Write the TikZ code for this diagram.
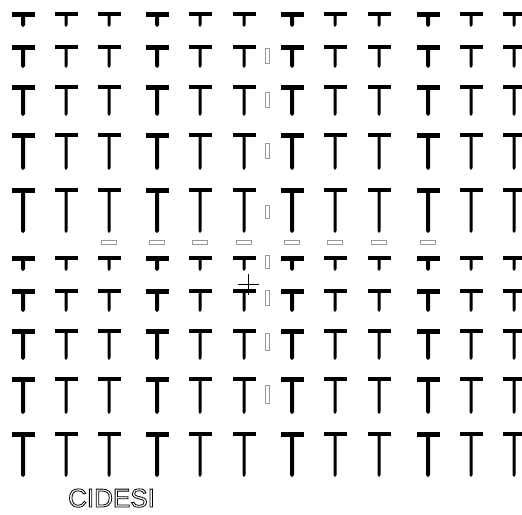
\documentclass[tikz,border=0pt]{standalone}
\usepackage{fontspec}
\setmainfont{Liberation Sans}
\tikzset{
  markrect/.style={draw=black!40, line width=0.7pt},
  crossline/.style={draw=black, line width=0.8pt},
}
\begin{document}
\begin{tikzpicture}[x=1pt,y=-1pt]
\useasboundingbox (0,0) rectangle (522,514);
\fill[white] (0,0) rectangle (522,514);
% grid of T shapes
\foreach \cx [count=\ci] in {23,66,109,157,200,244,292,335,379,428,471,514} {
  \pgfmathsetmacro\bt{ifthenelse(mod(\ci-1,3)==0,5,3.8)}
  \pgfmathsetmacro\st{ifthenelse(mod(\ci-1,3)==0,4,3)}
  \foreach \tp/\bm in {12/27,45/68,85/116,133/170,188/233,256/271,289/312,329/360,377/414,432/477} {
    \fill (\cx-11.5,\tp) rectangle (\cx+11.5,\tp+\bt);
    \fill (\cx-\st/2,\tp) -- (\cx+\st/2,\tp) -- (\cx+\st/2,\bm-2) -- (\cx,\bm) -- (\cx-\st/2,\bm-2) -- cycle;
  }
}
% small vertical rectangles
\foreach \a/\b in {48/63,92/107,143/158,205/218,255/268,290/305,333/350,385/403}
  \draw[markrect] (265,\a) rectangle (269,\b);
% small horizontal rectangles
\foreach \hx in {109,157,200,244,292,335,379,428}
  \draw[markrect] (\hx-7.5,240) rectangle (\hx+7.5,244.5);
% cross
\draw[crossline] (238,284) -- (259,284);
\draw[crossline] (248,274) -- (248,295);
% label
\node[anchor=base west, inner sep=0pt, text depth=0pt, font=\fontsize{26}{28}\selectfont] (lbl) at (68,507)
  {\special{pdf:literal direct 1 Tr 0.8 w}CIDESI\special{pdf:literal direct 0 Tr}};
\end{tikzpicture}
\end{document}
